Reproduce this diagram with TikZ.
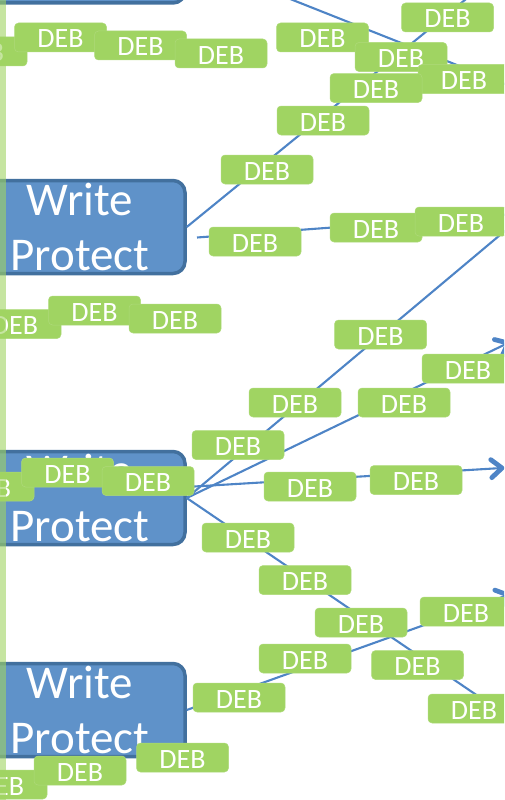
\documentclass[tikz,border=0pt]{standalone}
\usepackage{fontspec}
\setmainfont{Carlito}
\usetikzlibrary{calc}
\definecolor{boxblue}{RGB}{95,146,201}
\definecolor{boxborder}{RGB}{66,112,158}
\definecolor{linkblue}{RGB}{78,132,198}
\definecolor{debgreen}{RGB}{160,212,98}
\tikzset{
 wp/.style={rectangle, rounded corners=12pt, fill=boxblue, draw=boxborder, line width=3.5pt,
   minimum width=210pt, minimum height=93pt, inner sep=0pt, text=white, align=center,
   font=\fontsize{47}{55}\selectfont},
 deb/.style={rectangle, rounded corners=4pt, fill=debgreen, draw=debgreen!85!white, line width=0.5pt,
   minimum width=92pt, minimum height=29pt, inner sep=0pt, text=white,
   font=\fontsize{28}{30}\selectfont, text height=21pt, text depth=0pt},
 link/.style={draw=linkblue, line width=2.1pt},
 barb/.style={draw=linkblue, line width=4.8pt, line cap=round, line join=round},
}
\newcommand{\barbtip}[2]{\draw[barb] ($(#1)!14pt!40:(#2)$) -- (#1) -- ($(#1)!14pt!-40:(#2)$);}
\begin{document}
\begin{tikzpicture}[x=1pt,y=-1pt]
\useasboundingbox (0,0) rectangle (504,800);
\clip (0,0) rectangle (504,800);
% main boxes
\node[wp] (b1) at (80,-43.5) {Write\\Protect};
\node[wp] (b2) at (80,227) {Write\\Protect};
\node[wp] (b3) at (80,498) {Write\\Protect};
\node[wp] (b4) at (80,710) {Write\\Protect};
% free ends
\coordinate (t1) at (270,-9);
\coordinate (t2) at (520,90);
\coordinate (c2) at (471,-5);
\coordinate (s3) at (197,237.5);
\coordinate (e3) at (515,214);
\coordinate (e3a) at (506,230);
\coordinate (e3b) at (508,343);
\coordinate (s3c) at (186,487);
\coordinate (e3c) at (502,468);
\coordinate (e3d) at (500,711);
\coordinate (e4) at (508,595);
% connectors
\draw[link] (t1) -- (t2);
\draw[link] (b2.east) -- (c2);
\draw[link] (s3) -- (e3);
\draw[link] (b3.east) -- (e3a);
\draw[link] (b3.east) -- (e3b);
\barbtip{e3b}{b3.east}
\draw[link] (s3c) -- (e3c);
\barbtip{e3c}{s3c}
\draw[link] (b3.east) -- (e3d);
\draw[link] (b4.east) -- (e4);
\barbtip{e4}{b4.east}
% DEB nodes
\node[deb] (na) at (-19,51.5) {DEB};
\node[deb] (nb) at (60.5,37.5) {DEB};
\node[deb] (nc) at (140.5,45.5) {DEB};
\node[deb] (nd) at (221,53.5) {DEB};
\node[deb] (ne) at (322.5,37.5) {DEB};
\node[deb] (ng) at (401,57) {DEB};
\node[deb] (nf) at (447.5,17.5) {DEB};
\node[deb] (nh) at (464,79) {DEB};
\node[deb] (ni) at (376,88) {DEB};
\node[deb] (nj) at (323,120.5) {DEB};
\node[deb] (nk) at (267,169.5) {DEB};
\node[deb] (nl) at (255,241.5) {DEB};
\node[deb] (nm) at (376,227.5) {DEB};
\node[deb] (nn) at (461,221.5) {DEB};
\node[deb] (nq) at (15,324) {DEB};
\node[deb] (nr) at (94.5,310.5) {DEB};
\node[deb] (ns) at (175,318.5) {DEB};
\node[deb] (no) at (380.5,334.5) {DEB};
\node[deb] (np) at (468,368.5) {DEB};
\node[deb] (naa) at (-12,486.5) {DEB};
\node[deb] (nab) at (67.5,472.5) {DEB};
\node[deb] (nac) at (148,481) {DEB};
\node[deb] (nad) at (238,445) {DEB};
\node[deb] (nae) at (295,402.5) {DEB};
\node[deb] (nag) at (404,402.5) {DEB};
\node[deb] (nah) at (310,486.5) {DEB};
\node[deb] (nai) at (416,480) {DEB};
\node[deb] (naf) at (248,537.5) {DEB};
\node[deb] (naj) at (305,580) {DEB};
\node[deb] (nak) at (361,622.5) {DEB};
\node[deb] (nal) at (417.5,665) {DEB};
\node[deb] (nam) at (474,708.5) {DEB};
\node[deb] (nw) at (239,697.5) {DEB};
\node[deb] (nx) at (305,658.5) {DEB};
\node[deb] (nz) at (466,611.5) {DEB};
\node[deb] (nv) at (1,784.5) {DEB};
\node[deb] (nu) at (80,770.5) {DEB};
\node[deb] (nt) at (182.5,757.5) {DEB};
% translucent left stripe
\fill[debgreen, opacity=0.6] (0,0) rectangle (6,800);
\end{tikzpicture}
\end{document}
